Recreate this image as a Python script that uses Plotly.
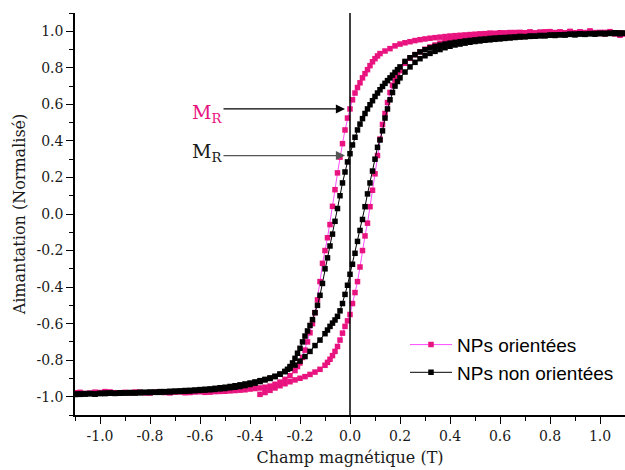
import plotly.graph_objects as go

# ---------------- data ----------------
# Pink sample "NPs orientées": ascending branch (starts at -0.36 T) then descending branch
pink_up = [(-0.36,-0.987),(-0.34,-0.977),(-0.32,-0.965),(-0.30,-0.952),(-0.28,-0.940),(-0.26,-0.929),
           (-0.24,-0.918),(-0.22,-0.908),(-0.20,-0.899),(-0.18,-0.890),(-0.16,-0.878),(-0.14,-0.865),
           (-0.12,-0.850),(-0.10,-0.828),(-0.09,-0.812),(-0.08,-0.795),(-0.07,-0.775),(-0.06,-0.752),
           (-0.05,-0.725),(-0.04,-0.690),(-0.03,-0.652),(-0.02,-0.615),(-0.01,-0.585),(0.00,-0.550),
           (0.01,-0.490),(0.02,-0.430),(0.03,-0.370),(0.04,-0.290),(0.05,-0.200),(0.06,-0.120),
           (0.07,-0.050),(0.08,0.040),(0.09,0.130),(0.10,0.220),(0.11,0.320),(0.12,0.410),
           (0.13,0.490),(0.14,0.550),(0.15,0.610),(0.16,0.665),(0.17,0.705),(0.18,0.735),
           (0.19,0.760),(0.20,0.785),(0.22,0.825),(0.24,0.852),(0.26,0.872),(0.28,0.888),
           (0.30,0.902),(0.32,0.914),(0.34,0.925),(0.36,0.935),(0.38,0.944),(0.40,0.952),
           (0.42,0.958),(0.44,0.964),(0.46,0.969),(0.48,0.974),(0.50,0.977),(0.52,0.980),
           (0.54,0.982),(0.56,0.984),(0.58,0.986),(0.60,0.987),(0.62,0.989),(0.64,0.990),
           (0.66,0.993),(0.68,0.989),(0.70,0.991),(0.72,0.995),(0.74,0.990),(0.76,0.994),
           (0.78,0.997),(0.80,0.989),(0.82,0.993),(0.84,0.996),(0.86,0.991),(0.88,0.998),
           (0.90,0.992),(0.92,0.995),(0.94,0.990),(0.96,0.997),(0.98,0.993),(1.00,0.988),
           (1.02,0.994),(1.04,0.990),(1.06,0.985),(1.08,0.992),(1.10,0.987)]

pink_down = [(1.10,0.985),(1.08,0.978),(1.06,0.992),(1.04,0.998),(1.02,0.986),(1.00,0.994),
             (0.98,0.990),(0.96,1.002),(0.94,0.993),(0.92,0.997),(0.90,0.989),(0.88,0.999),
             (0.86,0.992),(0.84,0.996),(0.82,0.990),(0.80,0.998),(0.78,0.993),(0.76,0.995),
             (0.74,0.991),(0.72,0.996),(0.70,0.992),(0.68,0.994),(0.66,0.990),(0.64,0.993),
             (0.62,0.991),(0.60,0.992),(0.58,0.989),(0.56,0.990),(0.54,0.987),(0.52,0.986),
             (0.50,0.984),(0.48,0.982),(0.46,0.980),(0.44,0.978),(0.42,0.976),(0.40,0.974),
             (0.38,0.971),(0.36,0.968),(0.34,0.965),(0.32,0.962),(0.30,0.958),(0.28,0.954),
             (0.26,0.949),(0.24,0.943),(0.22,0.937),(0.20,0.930),(0.18,0.920),(0.16,0.905),
             (0.14,0.892),(0.12,0.878),(0.11,0.865),(0.10,0.850),(0.09,0.833),(0.08,0.812),
             (0.07,0.790),(0.06,0.768),(0.05,0.745),(0.04,0.718),(0.03,0.692),(0.02,0.662),
             (0.01,0.625),(0.00,0.575),(-0.01,0.525),(-0.02,0.460),(-0.03,0.385),(-0.04,0.311),
             (-0.05,0.225),(-0.06,0.133),(-0.07,0.042),(-0.08,-0.058),(-0.09,-0.130),(-0.10,-0.200),
             (-0.11,-0.270),(-0.12,-0.370),(-0.13,-0.470),(-0.14,-0.540),(-0.15,-0.600),(-0.16,-0.650),
             (-0.17,-0.700),(-0.18,-0.745),(-0.19,-0.785),(-0.20,-0.815),(-0.21,-0.835),(-0.22,-0.857),
             (-0.24,-0.885),(-0.26,-0.905),(-0.28,-0.920),(-0.30,-0.932),(-0.32,-0.942),(-0.34,-0.948),
             (-0.36,-0.952),(-0.38,-0.955),(-0.40,-0.958),(-0.42,-0.962),(-0.44,-0.964),(-0.46,-0.966),
             (-0.48,-0.968),(-0.50,-0.970),(-0.52,-0.971),(-0.54,-0.972),(-0.56,-0.975),(-0.58,-0.976),
             (-0.60,-0.973),(-0.62,-0.974),(-0.64,-0.977),(-0.66,-0.978),(-0.68,-0.974),(-0.70,-0.975),
             (-0.72,-0.979),(-0.74,-0.977),(-0.76,-0.973),(-0.78,-0.975),(-0.80,-0.980),(-0.82,-0.979),
             (-0.84,-0.976),(-0.86,-0.974),(-0.88,-0.978),(-0.90,-0.976),(-0.92,-0.981),(-0.94,-0.978),
             (-0.96,-0.974),(-0.98,-0.972),(-1.00,-0.977),(-1.02,-0.975),(-1.04,-0.980),(-1.06,-0.982),
             (-1.08,-0.976),(-1.10,-0.978)]

# Black sample "NPs non orientées": descending branch then ascending branch
black_down = [(1.10,0.990),(1.08,0.986),(1.06,0.992),(1.04,0.988),(1.02,0.985),(1.00,0.989),
              (0.98,0.984),(0.96,0.987),(0.94,0.983),(0.92,0.985),(0.90,0.980),(0.88,0.983),
              (0.86,0.979),(0.84,0.981),(0.82,0.977),(0.80,0.979),(0.78,0.975),(0.76,0.977),
              (0.74,0.973),(0.72,0.974),(0.70,0.971),(0.68,0.972),(0.66,0.969),(0.64,0.968),
              (0.62,0.966),(0.60,0.965),(0.58,0.963),(0.56,0.961),(0.54,0.958),(0.52,0.956),
              (0.50,0.953),(0.48,0.950),(0.46,0.947),(0.44,0.943),(0.42,0.939),(0.40,0.935),
              (0.38,0.930),(0.36,0.924),(0.34,0.917),(0.32,0.909),(0.30,0.899),(0.28,0.887),
              (0.26,0.872),(0.24,0.855),(0.22,0.835),(0.20,0.805),(0.19,0.790),(0.18,0.775),
              (0.17,0.760),(0.16,0.745),(0.15,0.730),(0.14,0.715),(0.13,0.698),(0.12,0.680),
              (0.11,0.662),(0.10,0.643),(0.09,0.620),(0.08,0.598),(0.07,0.575),(0.06,0.550),
              (0.05,0.522),(0.04,0.492),(0.03,0.460),(0.02,0.420),(0.01,0.378),(0.00,0.330),
              (-0.01,0.285),(-0.02,0.230),(-0.03,0.170),(-0.04,0.100),(-0.05,0.030),(-0.06,-0.040),
              (-0.07,-0.110),(-0.08,-0.175),(-0.09,-0.240),(-0.10,-0.300),(-0.11,-0.380),(-0.12,-0.445),
              (-0.13,-0.500),(-0.14,-0.540),(-0.15,-0.578),(-0.16,-0.610),(-0.17,-0.640),(-0.18,-0.668),
              (-0.19,-0.700),(-0.20,-0.735),(-0.21,-0.762),(-0.22,-0.790),(-0.23,-0.815),(-0.24,-0.835),
              (-0.25,-0.850),(-0.26,-0.862),(-0.28,-0.877),(-0.30,-0.890),(-0.32,-0.900),(-0.34,-0.908),
              (-0.36,-0.917),(-0.38,-0.926),(-0.40,-0.933),(-0.42,-0.939),(-0.44,-0.944),(-0.46,-0.948),
              (-0.48,-0.951),(-0.50,-0.955),(-0.52,-0.957),(-0.54,-0.960),(-0.56,-0.962),(-0.58,-0.964),
              (-0.60,-0.965),(-0.62,-0.967),(-0.64,-0.969),(-0.66,-0.970),(-0.68,-0.971),(-0.70,-0.972),
              (-0.72,-0.974),(-0.74,-0.974),(-0.76,-0.976),(-0.78,-0.976),(-0.80,-0.977),(-0.82,-0.977),
              (-0.84,-0.979),(-0.86,-0.980),(-0.88,-0.980),(-0.90,-0.979),(-0.92,-0.981),(-0.94,-0.982),
              (-0.96,-0.981),(-0.98,-0.980),(-1.00,-0.983),(-1.02,-0.986),(-1.04,-0.984),(-1.06,-0.983),
              (-1.08,-0.987),(-1.10,-0.985)]

black_up = [(-1.10,-0.988),(-1.08,-0.984),(-1.06,-0.986),(-1.04,-0.982),(-1.02,-0.985),(-1.00,-0.981),
            (-0.98,-0.983),(-0.96,-0.979),(-0.94,-0.981),(-0.92,-0.978),(-0.90,-0.980),(-0.88,-0.977),
            (-0.86,-0.978),(-0.84,-0.975),(-0.82,-0.976),(-0.80,-0.974),(-0.78,-0.975),(-0.76,-0.972),
            (-0.74,-0.972),(-0.72,-0.970),(-0.70,-0.969),(-0.68,-0.968),(-0.66,-0.966),(-0.64,-0.965),
            (-0.62,-0.963),(-0.60,-0.961),(-0.58,-0.959),(-0.56,-0.957),(-0.54,-0.954),(-0.52,-0.951),
            (-0.50,-0.948),(-0.48,-0.944),(-0.46,-0.940),(-0.44,-0.935),(-0.42,-0.930),(-0.40,-0.925),
            (-0.38,-0.919),(-0.36,-0.912),(-0.34,-0.905),(-0.32,-0.897),(-0.30,-0.888),(-0.28,-0.876),
            (-0.26,-0.862),(-0.24,-0.845),(-0.22,-0.827),(-0.20,-0.805),(-0.18,-0.780),(-0.16,-0.752),
            (-0.14,-0.720),(-0.12,-0.690),(-0.10,-0.655),(-0.09,-0.635),(-0.08,-0.615),(-0.07,-0.597),
            (-0.06,-0.580),(-0.05,-0.560),(-0.04,-0.530),(-0.03,-0.490),(-0.02,-0.440),(-0.01,-0.390),
            (0.00,-0.330),(0.01,-0.275),(0.02,-0.215),(0.03,-0.150),(0.04,-0.090),(0.05,-0.030),
            (0.06,0.040),(0.07,0.110),(0.08,0.170),(0.09,0.235),(0.10,0.300),(0.11,0.365),
            (0.12,0.405),(0.13,0.455),(0.14,0.525),(0.15,0.575),(0.16,0.625),(0.17,0.665),
            (0.18,0.700),(0.19,0.725),(0.20,0.745),(0.22,0.777),(0.24,0.805),(0.26,0.830),
            (0.28,0.850),(0.30,0.866),(0.32,0.879),(0.34,0.890),(0.36,0.900),(0.38,0.910),
            (0.40,0.918),(0.42,0.925),(0.44,0.930),(0.46,0.935),(0.48,0.940),(0.50,0.944),
            (0.52,0.947),(0.54,0.951),(0.56,0.953),(0.58,0.956),(0.60,0.958),(0.62,0.961),
            (0.64,0.963),(0.66,0.966),(0.68,0.968),(0.70,0.970),(0.72,0.972),(0.74,0.973),
            (0.76,0.975),(0.78,0.977),(0.80,0.978),(0.82,0.980),(0.84,0.981),(0.86,0.982),
            (0.88,0.984),(0.90,0.985),(0.92,0.986),(0.94,0.985),(0.96,0.987),(0.98,0.988),
            (1.00,0.987),(1.02,0.989),(1.04,0.990),(1.06,0.988),(1.08,0.991),(1.10,0.989)]

series_names = ["NPs orientées", "NPs non orientées"]
remanence = [0.575, 0.32]          # M_R levels marked by the arrows
tick_vals = [-1.0, -0.8, -0.6, -0.4, -0.2, 0.0, 0.2, 0.4, 0.6, 0.8, 1.0]
tick_text = ["-1.0", "-0.8", "-0.6", "-0.4", "-0.2", "0.0", "0.2", "0.4", "0.6", "0.8", "1.0"]
x_title = "Champ magnétique (T)"
y_title = "Aimantation (Normalisé)"

# ---------------- figure ----------------
def xs(pts):
    return [p[0] for p in pts]

def ys(pts):
    return [p[1] for p in pts]

pink_pts = pink_up + pink_down
black_pts = black_down + black_up

PINK_MK = "#E8137F"
PINK_LN = "#FF4CFF"

fig = go.Figure()
fig.add_trace(go.Scatter(
    x=xs(pink_pts), y=ys(pink_pts), mode="lines+markers", name=series_names[0],
    line=dict(color=PINK_LN, width=1),
    marker=dict(symbol="square", size=5.5, color=PINK_MK, line=dict(width=0)),
))
fig.add_trace(go.Scatter(
    x=xs(black_pts), y=ys(black_pts), mode="lines+markers", name=series_names[1],
    line=dict(color="black", width=1),
    marker=dict(symbol="square", size=5.5, color="black", line=dict(width=0)),
))

SERIF = "DejaVu Serif, Liberation Serif, serif"
axis_common = dict(
    range=[-1.1, 1.1], showline=True, linecolor="black", linewidth=1.5,
    ticks="outside", ticklen=7, tickwidth=1.2, tickcolor="black",
    tickvals=tick_vals, ticktext=tick_text,
    showgrid=False, zeroline=False, mirror=False,
    tickfont=dict(family=SERIF, size=14, color="#1a1a1a"),
    minor=dict(ticks="outside", ticklen=4, tickwidth=1.2, tickcolor="black",
               dtick=0.1, tick0=0, showgrid=False),
)

fig.update_layout(
    width=625, height=470,
    margin=dict(l=75, r=0, t=13, b=55),
    paper_bgcolor="white", plot_bgcolor="white",
    xaxis=dict(**axis_common, title=dict(text=x_title, font=dict(family=SERIF, size=16, color="#1a1a1a"), standoff=9)),
    yaxis=dict(**axis_common, title=dict(text=y_title, font=dict(family=SERIF, size=16, color="#1a1a1a"), standoff=7)),
    legend=dict(x=0.6, y=0.222, xanchor="left", yanchor="top",
                bgcolor="rgba(0,0,0,0)", borderwidth=0, itemwidth=42,
                font=dict(family="Liberation Sans, Arial, sans-serif", size=19, color="black"),
                tracegroupgap=0),
    showlegend=True,
)

# vertical line at H = 0
fig.add_shape(type="line", xref="x", yref="paper", x0=0, x1=0, y0=0, y1=1,
              line=dict(color="black", width=1.5), layer="above")

# remanence arrows
arrow_colors = ["black", "#555555"]
for lvl, col in zip(remanence, arrow_colors):
    fig.add_annotation(x=-0.02, y=lvl, ax=-0.512, ay=lvl, xref="x", yref="y",
                       axref="x", ayref="y", text="", showarrow=True,
                       arrowhead=2, arrowsize=1.4, arrowwidth=1.3, arrowcolor=col)

# M_R labels
label_colors = [PINK_MK, "#1a1a1a"]
label_y = [0.548, 0.338]
for ly, col in zip(label_y, label_colors):
    fig.add_annotation(x=-0.573, y=ly, xref="x", yref="y", text="M<sub>R</sub>",
                       showarrow=False, xanchor="center", yanchor="middle",
                       font=dict(family=SERIF, size=19, color=col))

fig.write_html("out.html", config={"displayModeBar": False},
               post_script="document.body.style.margin='0';document.body.style.padding='0';")
